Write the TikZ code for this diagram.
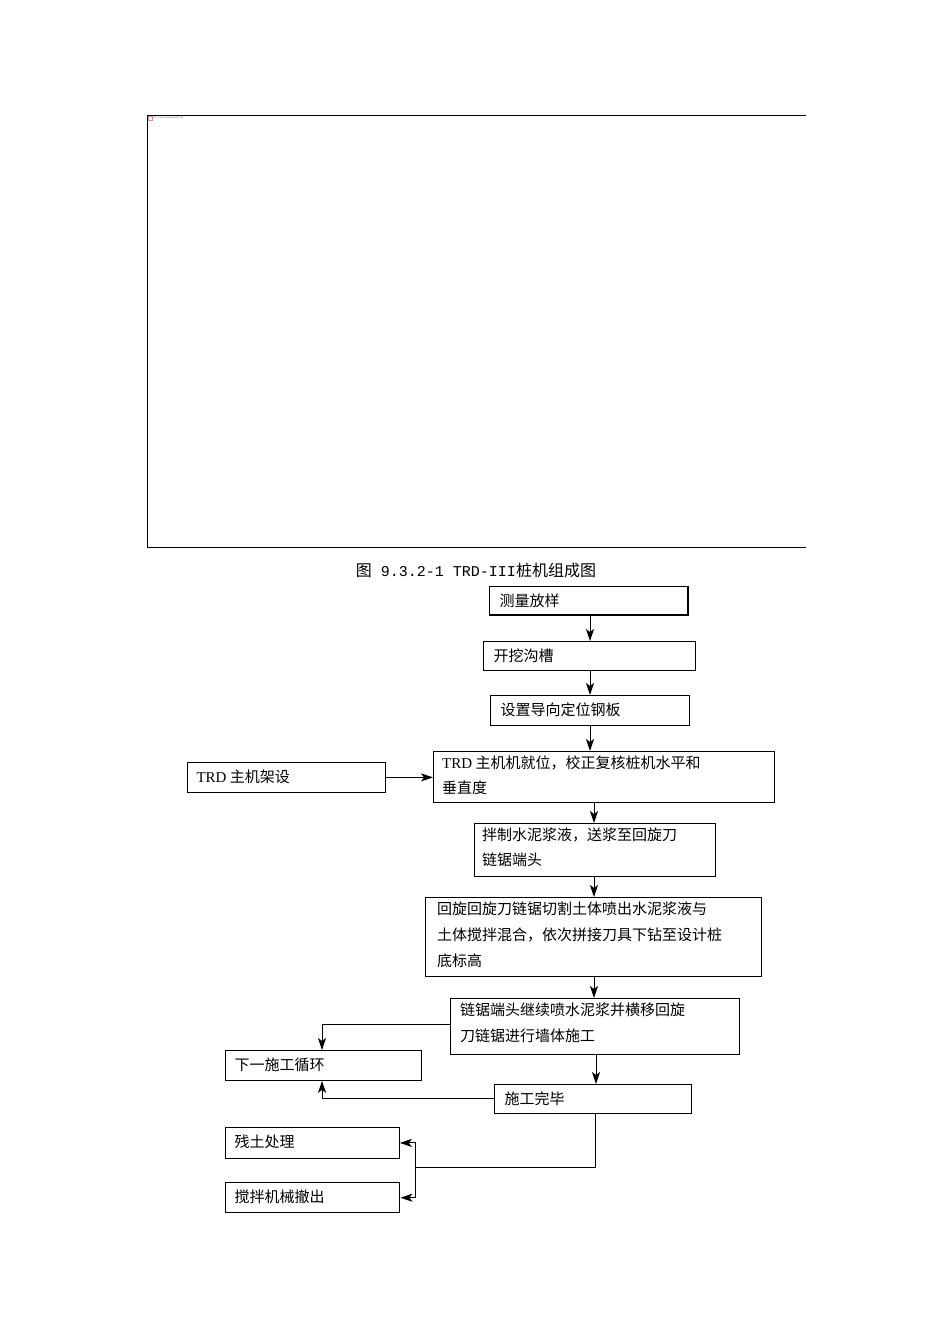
\documentclass[tikz,border=0pt]{standalone}
\usepackage{fontspec}
\setmainfont{Liberation Serif}
\setmonofont{Liberation Mono}
\newfontfamily\cjk{Noto Sans CJK SC}
\usetikzlibrary{arrows.meta}
\begin{document}
\begin{tikzpicture}[x=1pt,y=-1pt,
  bx/.style={draw,line width=0.8pt,anchor=north west,inner sep=0pt},
  tx/.style={anchor=west,font=\cjk\fontsize{15}{16}\selectfont},
  tm/.style={anchor=north west,align=left,inner sep=0pt},
  ar/.style={line width=1pt,-{Stealth[length=12pt,width=8pt,inset=3pt]}}]
\useasboundingbox (0,0) rectangle (950,1344);
\draw[line width=0.8pt] (806,115) -- (147,115) -- (147,547) -- (806,547);
\node[draw=red!50,line width=0.4pt,minimum size=4pt,inner sep=0pt] (ico) at (150,118) {};
\node[anchor=west,font=\fontsize{2}{2}\selectfont,text=gray,inner sep=0pt] (ict) at (153,118) {\cjk 图片无法显示请检查链接是否正确};
\node[font=\cjk\fontsize{16}{18}\selectfont] (cap) at (476,570) {图{\ttfamily\fontsize{15}{18}\selectfont\ 9.3.2-1 TRD-III}桩机组成图};
\node[bx,minimum width=199,minimum height=29] (b1) at (489,586) {};
\draw[line width=1.6pt] (688,586) -- (688,615) -- (489,615);
\node[tx] (t1) at (496,601) {测量放样};
\node[bx,minimum width=212,minimum height=29] (b2) at (483,641) {};
\node[tx] (t2) at (490,656) {开挖沟槽};
\node[bx,minimum width=199,minimum height=30] (b3) at (490,695) {};
\node[tx] (t3) at (497,710) {设置导向定位钢板};
\node[bx,minimum width=341,minimum height=51,line width=1.2pt] (b4) at (433,751) {};
\node[tm,font=\cjk\fontsize{15}{25}\selectfont] (t4) at (442,756) {{\rmfamily TRD} 主机机就位，校正复核桩机水平和\\垂直度};
\node[bx,minimum width=198,minimum height=30] (b5) at (187,762) {};
\node[tx] (t5) at (193,777) {{\rmfamily TRD} 主机架设};
\node[bx,minimum width=241,minimum height=53] (b6) at (474,823) {};
\node[tm,font=\cjk\fontsize{15}{25}\selectfont] (t6) at (482,828) {拌制水泥浆液，送浆至回旋刀\\链锯端头};
\node[bx,minimum width=336,minimum height=79] (b7) at (425,897) {};
\node[tm,font=\cjk\fontsize{15}{26}\selectfont] (t7) at (437,902) {回旋回旋刀链锯切割土体喷出水泥浆液与\\土体搅拌混合，依次拼接刀具下钻至设计桩\\底标高};
\node[bx,minimum width=289,minimum height=56] (b8) at (450,998) {};
\node[tm,font=\cjk\fontsize{15}{26}\selectfont] (t8) at (460,1003) {链锯端头继续喷水泥浆并横移回旋\\刀链锯进行墙体施工};
\node[bx,minimum width=196,minimum height=30] (b9) at (225,1050) {};
\node[tx] (t9) at (231,1065) {下一施工循环};
\node[bx,minimum width=197,minimum height=29] (b10) at (494,1084) {};
\node[tx] (t10) at (501,1099) {施工完毕};
\node[bx,minimum width=174,minimum height=31] (b11) at (225,1127) {};
\node[tx] (t11) at (231,1142) {残土处理};
\node[bx,minimum width=174,minimum height=30,line width=1.4pt] (b12) at (225,1182) {};
\node[tx] (t12) at (231,1197) {搅拌机械撤出};
\draw[ar] (b1.south -| 590,0) -- (b2.north -| 590,0);
\draw[ar] (b2.south -| 590,0) -- (b3.north -| 590,0);
\draw[ar] (b3.south -| 590,0) -- (b4.north -| 590,0);
\draw[ar] (b4.south -| 594,0) -- (b6.north -| 594,0);
\draw[ar] (b6.south -| 594,0) -- (b7.north -| 594,0);
\draw[ar] (b7.south -| 594,0) -- (b8.north -| 594,0);
\draw[ar] (b8.south -| 596,0) -- (b10.north -| 596,0);
\draw[ar] (b5.east) -- (b5.east -| b4.west);
\draw[ar] (b8.west |- 0,1024) -| (b9.north -| 322,0);
\draw[ar] (b10.west |- 0,1098) -| (b9.south -| 322,0);
\coordinate (j) at (415,1167);
\draw[line width=0.8pt] (b10.south -| 595,0) |- (j);
\draw[ar] (j) |- (b11.east);
\draw[ar] (j) |- (b12.east);
\end{tikzpicture}
\end{document}
